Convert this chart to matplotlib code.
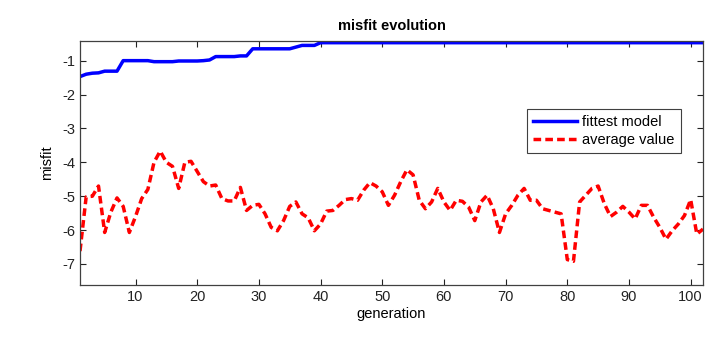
import numpy as np
import matplotlib.pyplot as plt

plt.rcParams['font.family'] = ['Liberation Sans', 'DejaVu Sans']
plt.rcParams['axes.unicode_minus'] = False

generation = np.arange(1, 103)

fittest = [-1.47, -1.40, -1.37, -1.36, -1.31, -1.31, -1.31, -1.00, -1.00, -1.00,
           -1.00, -1.00, -1.03, -1.03, -1.03, -1.03, -1.01, -1.01, -1.01, -1.01,
           -1.00, -0.98, -0.88, -0.88, -0.88, -0.88, -0.86, -0.86, -0.65, -0.65,
           -0.65, -0.65, -0.65, -0.65, -0.65, -0.60, -0.55, -0.55, -0.55, -0.47] + [-0.47] * 62

average = [-6.62, -5.02, -5.00, -4.70, -6.07, -5.47, -5.05, -5.30, -6.07, -5.60,
           -5.07, -4.80, -4.00, -3.67, -4.00, -4.12, -4.77, -4.00, -3.97, -4.27,
           -4.57, -4.70, -4.67, -5.07, -5.14, -5.14, -4.74, -5.42, -5.27, -5.24,
           -5.52, -5.92, -6.02, -5.72, -5.30, -5.17, -5.52, -5.64, -6.02, -5.82,
           -5.44, -5.42, -5.27, -5.10, -5.07, -5.12, -4.82, -4.60, -4.70, -4.87,
           -5.27, -4.97, -4.57, -4.22, -4.37, -5.12, -5.37, -5.17, -4.77, -5.17,
           -5.42, -5.12, -5.15, -5.32, -5.72, -5.17, -4.97, -5.37, -6.07, -5.52,
           -5.27, -4.97, -4.77, -5.12, -5.12, -5.37, -5.42, -5.47, -5.52, -6.87,
           -6.92, -5.17, -4.97, -4.77, -4.70, -5.22, -5.60, -5.47, -5.30, -5.47,
           -5.67, -5.27, -5.27, -5.62, -5.92, -6.27, -6.02, -5.82, -5.57, -5.10,
           -6.12, -5.97]

fig = plt.figure(figsize=(7.15, 3.38), dpi=100)
ax = fig.add_axes([80 / 715, 1 - 285 / 338, 623 / 715, 244 / 338])

ax.plot(generation, fittest, color='#0000ff', lw=2.5, label='fittest model')
ax.plot(generation, average, color='#ff0000', lw=2.5, ls=(0, (2.2, 1.2)), label='average value')

ax.set_xlim(1, 102)
ax.set_ylim(-7.62, -0.42)
ax.set_xticks(np.arange(10, 101, 10))
ax.set_yticks(np.arange(-7, 0))
ax.tick_params(direction='in', top=True, right=True, length=4, labelsize=10.5, colors='#222222')
for s in ax.spines.values():
    s.set_color('#404040')
    s.set_linewidth(0.9)

ax.set_title('misfit evolution', fontsize=10.5, fontweight='bold', pad=8)
ax.set_xlabel('generation', fontsize=10.5, labelpad=2)
ax.set_ylabel('misfit', fontsize=10.5, labelpad=6)

leg = ax.legend(loc='upper left', bbox_to_anchor=((527 - 80) / 623, (285 - 109) / 244),
                borderaxespad=0, fontsize=10.5, fancybox=False, framealpha=1,
                edgecolor='#404040', handlelength=3.0, borderpad=0.4,
                labelspacing=0.3, handletextpad=0.4)
leg.get_frame().set_linewidth(0.8)

fig.savefig('out.png', dpi=100)
